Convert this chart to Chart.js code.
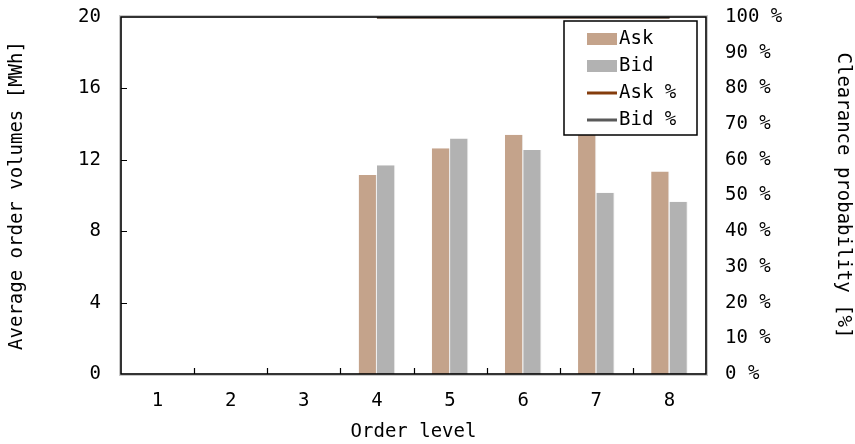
<!DOCTYPE html>
<html>
<head>
<meta charset="utf-8">
<script src="https://cdn.jsdelivr.net/npm/chart.js@4.4.1/dist/chart.umd.min.js"></script>
<style>
  html, body { margin: 0; padding: 0; background: #fff; }
  #wrap { width: 855px; height: 444px; }
</style>
</head>
<body>
<div id="wrap"><canvas id="orders"></canvas></div>
<script>
"use strict";
// order levels and averages per level
const levels = ['1', '2', '3', '4', '5', '6', '7', '8'];
const askVolume = [0, 0, 0, 11.15, 12.65, 13.4, 13.6, 11.35];
const bidVolume = [0, 0, 0, 11.7, 13.2, 12.55, 10.15, 9.65];
const askClear = [null, null, null, 100, 100, 100, 100, 100];
const bidClear = [null, null, null, 100, 100, 100, 100, 100];
const volumeTicks = [0, 4, 8, 12, 16, 20];
const clearTicks = [0, 10, 20, 30, 40, 50, 60, 70, 80, 90, 100];

const ASK = '#c4a38b';
const BID = '#b2b2b2';
const ASK_LINE = '#843c0c';
const BID_LINE = '#595959';
const FONT = { family: '"DejaVu Sans Mono", monospace', size: 19 };
const INK = '#000';

// frame, inward ticks and the legend box inside the plot
const framePlugin = {
    id: 'frame',
    afterDatasetsDraw(chart) {
        const ctx = chart.ctx;
        const a = chart.chartArea;
        const x = chart.scales.x;
        const y = chart.scales.y;
        ctx.save();
        ctx.strokeStyle = '#000';
        ctx.lineWidth = 1.2;
        ctx.beginPath();
        for (let i = 1; i < levels.length; i++) {
            const px = Math.round((x.getPixelForTick(i - 1) + x.getPixelForTick(i)) / 2) + 0.5;
            ctx.moveTo(px, a.bottom);
            ctx.lineTo(px, a.bottom - 6);
        }
        for (const v of volumeTicks.slice(1, -1)) {
            const py = Math.round(y.getPixelForValue(v)) + 0.5;
            ctx.moveTo(a.left, py);
            ctx.lineTo(a.left + 6, py);
        }
        ctx.stroke();

        // legend
        const lx = a.right - 142, ly = a.top + 4, lw = 133, lh = 114;
        ctx.fillStyle = '#fff';
        ctx.fillRect(lx, ly, lw, lh);
        ctx.lineWidth = 1.5;
        ctx.strokeRect(lx, ly, lw, lh);
        const items = chart.data.datasets;
        ctx.font = FONT.size + 'px ' + FONT.family;
        ctx.textBaseline = 'middle';
        items.forEach((ds, i) => {
            const cy = ly + 18 + i * 27;
            if (ds.type === 'line') {
                ctx.strokeStyle = ds.borderColor;
                ctx.lineWidth = 3;
                ctx.beginPath();
                ctx.moveTo(lx + 23, cy);
                ctx.lineTo(lx + 53, cy);
                ctx.stroke();
            } else {
                ctx.fillStyle = ds.backgroundColor;
                ctx.fillRect(lx + 23, cy - 6, 30, 12);
            }
            ctx.fillStyle = INK;
            ctx.fillText(ds.label, lx + 55, cy);
        });
        ctx.restore();
    },
    afterDraw(chart) {
        const ctx = chart.ctx;
        const a = chart.chartArea;
        ctx.save();
        ctx.strokeStyle = '#c8c8c8';
        ctx.lineWidth = 1;
        ctx.strokeRect(a.left - 1.5, a.top - 1.5, a.right - a.left + 3, a.bottom - a.top + 3);
        ctx.strokeStyle = '#000';
        ctx.lineWidth = 1.6;
        ctx.strokeRect(a.left, a.top, a.right - a.left, a.bottom - a.top);
        ctx.restore();
    }
};

// vertical axes: fixed width, no extra room above/below for labels
function fixWidth(w) {
    return function (s) {
        s.width = w;
        s.paddingTop = 0;
        s.paddingBottom = 0;
    };
}

const orderChart = new Chart(document.getElementById('orders'), {
    type: 'bar',
    data: {
        labels: levels,
        datasets: [
            { label: 'Ask', data: askVolume, backgroundColor: ASK, borderColor: 'rgba(235,235,235,0.9)',
              borderWidth: { right: 1 }, yAxisID: 'y', order: 3 },
            { label: 'Bid', data: bidVolume, backgroundColor: BID, borderColor: 'rgba(235,235,235,0.9)',
              borderWidth: { right: 1 }, yAxisID: 'y', order: 3 },
            { type: 'line', label: 'Ask %', data: askClear, borderColor: ASK_LINE, backgroundColor: ASK_LINE,
              borderWidth: 3, pointRadius: 0, yAxisID: 'y2', order: 2 },
            { type: 'line', label: 'Bid %', data: bidClear, borderColor: BID_LINE, backgroundColor: BID_LINE,
              borderWidth: 3, pointRadius: 0, yAxisID: 'y2', order: 1 }
        ]
    },
    options: {
        responsive: true,
        maintainAspectRatio: false,
        animation: false,
        layout: { padding: { top: 17, left: 0, right: 0, bottom: 0 } },
        datasets: { bar: { barPercentage: 1, categoryPercentage: 0.5 } },
        plugins: { legend: { display: false }, tooltip: { enabled: false } },
        scales: {
            x: {
                grid: { display: false, drawTicks: false },
                border: { display: false },
                ticks: { font: FONT, color: INK, padding: 16, maxRotation: 0 },
                title: { display: true, text: 'Order level', font: FONT, color: INK, padding: { top: 0, bottom: 1 } },
                afterFit(s) { s.height = 70; s.paddingLeft = 0; s.paddingRight = 0; }
            },
            y: {
                position: 'left',
                min: 0, max: 20,
                afterBuildTicks(s) { s.ticks = volumeTicks.map(v => ({ value: v })); },
                grid: { display: false, drawTicks: false },
                border: { display: false },
                ticks: { font: FONT, color: INK, padding: 20 },
                title: { display: true, text: 'Average order volumes [MWh]', font: FONT, color: INK, padding: { top: 6, bottom: 0 } },
                afterFit: fixWidth(121)
            },
            y2: {
                position: 'right',
                min: 0, max: 100,
                afterBuildTicks(s) { s.ticks = clearTicks.map(v => ({ value: v })); },
                grid: { display: false, drawTicks: false },
                border: { display: false },
                ticks: { font: FONT, color: INK, padding: 19, callback: v => v + ' %' },
                title: { display: true, text: 'Clearance probability [%]', font: FONT, color: INK, padding: { top: 1, bottom: 0 } },
                afterFit: fixWidth(149)
            }
        }
    },
    plugins: [framePlugin]
});
</script>
</body>
</html>
